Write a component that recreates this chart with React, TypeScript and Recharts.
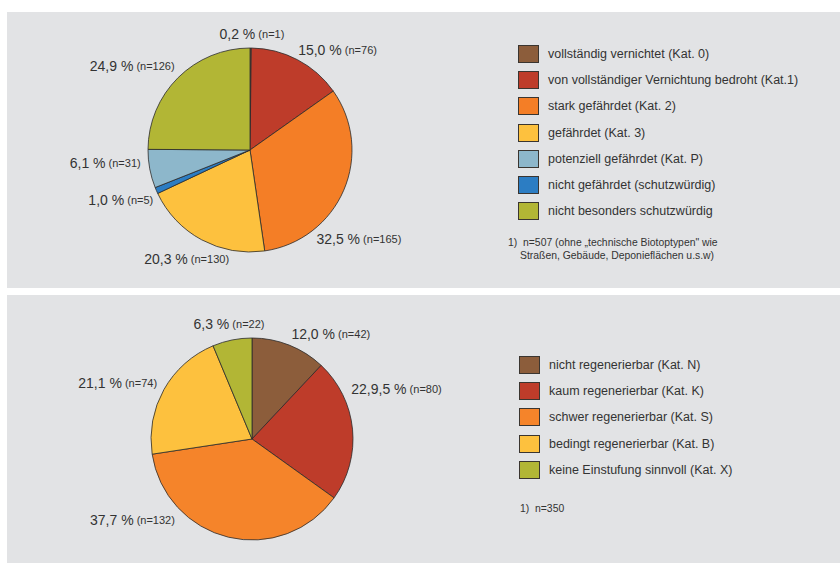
import { Pie, PieChart, Cell } from "recharts";

// top chart: Gefährdung
const topNames = [
	"vollständig vernichtet (Kat. 0)",
	"von vollständiger Vernichtung bedroht (Kat.1)",
	"stark gefährdet (Kat. 2)",
	"gefährdet (Kat. 3)",
	"potenziell gefährdet (Kat. P)",
	"nicht gefährdet (schutzwürdig)",
	"nicht besonders schutzwürdig",
];
// slice order clockwise from 12 o'clock
const topSliceNames = [
	"vollständig vernichtet (Kat. 0)",
	"von vollständiger Vernichtung bedroht (Kat.1)",
	"stark gefährdet (Kat. 2)",
	"gefährdet (Kat. 3)",
	"nicht gefährdet (schutzwürdig)",
	"potenziell gefährdet (Kat. P)",
	"nicht besonders schutzwürdig",
];
const topValues = [0.2, 15.0, 32.5, 20.3, 1.0, 6.1, 24.9];
const topPctLabels = ["0,2", "15,0", "32,5", "20,3", "1,0", "6,1", "24,9"];
const topCounts = [1, 76, 165, 130, 5, 31, 126];
const topNote = ["1)  n=507 (ohne „technische Biotoptypen\" wie", "Straßen, Gebäude, Deponieflächen u.s.w)"];

// bottom chart: Regenerierbarkeit
const bottomNames = [
	"nicht regenerierbar (Kat. N)",
	"kaum regenerierbar (Kat. K)",
	"schwer regenerierbar (Kat. S)",
	"bedingt regenerierbar (Kat. B)",
	"keine Einstufung sinnvoll (Kat. X)",
];
const bottomValues = [12.0, 22.9, 37.7, 21.1, 6.3];
const bottomPctLabels = ["12,0", "22,9,5", "37,7", "21,1", "6,3"];
const bottomCounts = [42, 80, 132, 74, 22];
const bottomNote = ["1)  n=350"];

const colorByName: Record<string, string> = {
	"vollständig vernichtet (Kat. 0)": "#8c5d3b",
	"von vollständiger Vernichtung bedroht (Kat.1)": "#be3c2a",
	"stark gefährdet (Kat. 2)": "#f47e26",
	"gefährdet (Kat. 3)": "#fdc13e",
	"potenziell gefährdet (Kat. P)": "#8db7cb",
	"nicht gefährdet (schutzwürdig)": "#2c7dc3",
	"nicht besonders schutzwürdig": "#b2b635",
	"nicht regenerierbar (Kat. N)": "#8c5d3b",
	"kaum regenerierbar (Kat. K)": "#be3c2a",
	"schwer regenerierbar (Kat. S)": "#f5842a",
	"bedingt regenerierbar (Kat. B)": "#fdc13e",
	"keine Einstufung sinnvoll (Kat. X)": "#b2b635",
};

// label placement: shift from mid angle (deg, clockwise), extra radius, anchor
const topLabelLayout = [
	{ shift: 0.6, dr: 14, anchor: "middle" },
	{ shift: -2, dr: 9, anchor: "start" },
	{ shift: 30, dr: 9, anchor: "start" },
	{ shift: -17.4, dr: 9, anchor: "end" },
	{ shift: -4, dr: 7, anchor: "end" },
	{ shift: 4, dr: 8, anchor: "end" },
	{ shift: 3, dr: 11, anchor: "end" },
];
const bottomLabelLayout = [
	{ shift: -1, dr: 11, anchor: "start" },
	{ shift: -21, dr: 10, anchor: "start" },
	{ shift: 30, dr: 11, anchor: "end" },
	{ shift: 1, dr: 9, anchor: "end" },
	{ shift: 0, dr: 16, anchor: "middle" },
];

const FONT = "'Liberation Sans', Arial, Helvetica, sans-serif";
const TEXT = "#333333";
const PANEL = "#e2e3e5";
const RAD = Math.PI / 180;

function makeLabel(pcts: string[], counts: number[], layout: typeof topLabelLayout) {
	return (props: any) => {
		const { cx, cy, midAngle, outerRadius, index } = props;
		const l = layout[index];
		const a = (midAngle - l.shift) * RAD;
		const r = outerRadius + l.dr;
		const x = cx + r * Math.cos(a);
		const y = cy - r * Math.sin(a);
		return (
			<text
				x={x}
				y={y}
				textAnchor={l.anchor}
				dominantBaseline="central"
				fill={TEXT}
				fontFamily={FONT}
			>
				<tspan fontSize={14}>{pcts[index]} %</tspan>
				<tspan fontSize={11}> (n={counts[index]})</tspan>
			</text>
		);
	};
}

function Legend({ names, top, left }: { names: string[]; top: number; left: number }) {
	return (
		<div style={{ position: "absolute", top, left, fontFamily: FONT }}>
			{names.map((n) => (
				<div key={n} style={{ display: "flex", alignItems: "center", height: 26.2 }}>
					<div
						style={{
							width: 19,
							height: 16,
							background: colorByName[n],
							border: "1px solid #3a3530",
						}}
					/>
					<span style={{ marginLeft: 9, fontSize: 12.5, color: TEXT }}>{n}</span>
				</div>
			))}
		</div>
	);
}

function Note({ lines, top, left }: { lines: string[]; top: number; left: number }) {
	return (
		<div
			style={{
				position: "absolute",
				top,
				left,
				fontFamily: FONT,
				fontSize: 10.4,
				lineHeight: "13px",
				color: TEXT,
				whiteSpace: "pre",
			}}
		>
			{lines.map((t, i) => (
				<div key={t} style={{ paddingLeft: i > 0 ? 12 : 0 }}>
					{t}
				</div>
			))}
		</div>
	);
}

export default function App() {
	const topData = topSliceNames.map((name, i) => ({ name, value: topValues[i] }));
	const bottomData = bottomNames.map((name, i) => ({ name, value: bottomValues[i] }));

	return (
		<div
			style={{
				position: "absolute",
				left: 0,
				top: 0,
				width: 840,
				height: 563,
				background: "#ffffff",
				overflow: "hidden",
			}}
		>
			<div style={{ position: "absolute", left: 7, top: 12, width: 833, height: 276, background: PANEL }} />
			<div style={{ position: "absolute", left: 7, top: 295, width: 833, height: 268, background: PANEL }} />

			<div style={{ position: "absolute", left: 0, top: 0 }}>
				<PieChart width={480} height={288} margin={{ top: 0, right: 0, bottom: 0, left: 0 }}>
					<Pie
						data={topData}
						dataKey="value"
						nameKey="name"
						cx={250}
						cy={150}
						outerRadius={102}
						startAngle={90}
						endAngle={-270}
						stroke="#2b2b2b"
						strokeWidth={0.8}
						label={makeLabel(topPctLabels, topCounts, topLabelLayout)}
						labelLine={false}
						isAnimationActive={false}
					>
						{topData.map((d) => (
							<Cell key={d.name} fill={colorByName[d.name]} />
						))}
					</Pie>
				</PieChart>
			</div>
			<Legend names={topNames} top={41} left={518} />
			<Note lines={topNote} top={235.5} left={508} />

			<div style={{ position: "absolute", left: 0, top: 288 }}>
				<PieChart width={480} height={275} margin={{ top: 0, right: 0, bottom: 0, left: 0 }}>
					<Pie
						data={bottomData}
						dataKey="value"
						nameKey="name"
						cx={252}
						cy={151}
						outerRadius={101}
						startAngle={90}
						endAngle={-270}
						stroke="#2b2b2b"
						strokeWidth={0.8}
						label={makeLabel(bottomPctLabels, bottomCounts, bottomLabelLayout)}
						labelLine={false}
						isAnimationActive={false}
					>
						{bottomData.map((d) => (
							<Cell key={d.name} fill={colorByName[d.name]} />
						))}
					</Pie>
				</PieChart>
			</div>
			<Legend names={bottomNames} top={352} left={519} />
			<Note lines={bottomNote} top={501.5} left={520} />
		</div>
	);
}
